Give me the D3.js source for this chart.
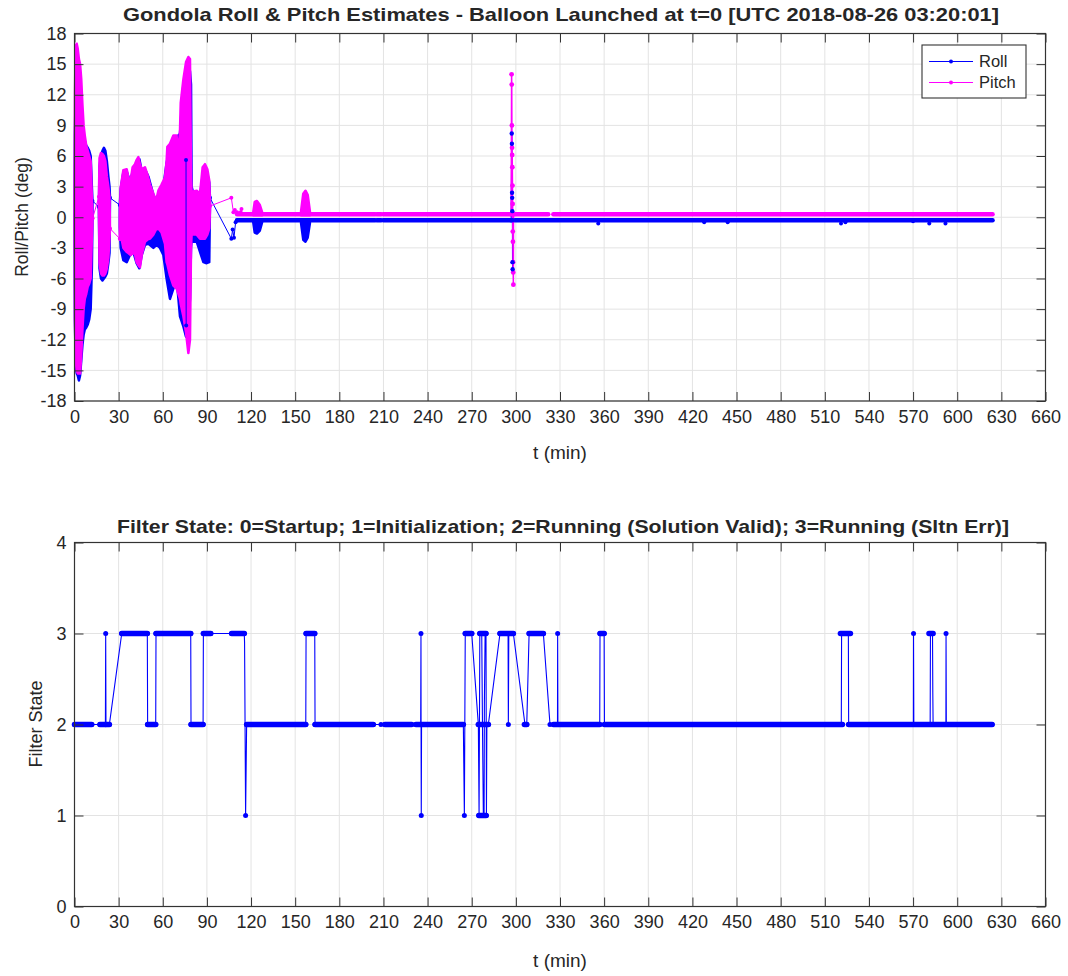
<!DOCTYPE html>
<html><head><meta charset="utf-8">
<script src="https://cdn.jsdelivr.net/npm/d3@7"></script>
<style>
body{margin:0;background:#fff}
svg{display:block}
text{font-family:"Liberation Sans",Arial,Helvetica,sans-serif;fill:#262626}
</style>
</head><body>
<svg id="c" width="1068" height="976"></svg>
<script>
// ---------------- DATA ----------------
const tTicks = [0,30,60,90,120,150,180,210,240,270,300,330,360,390,420,450,480,510,540,570,600,630,660];
const rpTicks = [-18,-15,-12,-9,-6,-3,0,3,6,9,12,15,18];
const fsTicks = [0,1,2,3,4];

// dense oscillation bursts: [t, upper, lower]
const rollBurstA = [[0,0,-0.5],[0.3,8,-10],[0.8,12.5,-14.5],[1.5,12.3,-15.3],[2.2,11.5,-15.5],[3,10,-16],[3.8,9,-15.5],[4.6,8.2,-14],[5.4,8,-12.5],[6.2,7.8,-11.5],[7,7.5,-11],[8,7,-10.8],[9,6.8,-10.5],[10,6.5,-10],[11,6,-9],[11.8,3,-5],[12.2,1.6,0]];
const pitchBurstA = [[0,1.5,-0.5],[0.3,12,-10],[0.8,16.8,-14],[1.5,17,-15],[2.2,16.5,-15.3],[3,15.5,-15.3],[3.8,15,-15.3],[4.6,13.5,-13.5],[5.4,11,-11],[6.2,9,-9],[7,8,-8],[8,7,-7.5],[9,6.5,-6.8],[10,6,-6.5],[11,5.5,-6],[11.8,2,-2],[12.2,-0.1,-0.5]];
const rollBurstB = [[16.6,1,0.5],[17,5,-5],[18,6,-6],[19,6.5,-6.2],[20,6.8,-6],[21,6.5,-5.8],[22,5.5,-5.5],[23,4,-4.5],[23.8,3,-3.5],[24.1,2,1.5]];
const pitchBurstB = [[16.6,2,1.5],[17,5.8,-4.5],[18,6.3,-5.5],[19,6.2,-5.7],[20,6,-5.7],[21,5.5,-5.5],[22,4,-5],[23,3,-4],[23.8,2,-2],[24.1,-1,-1.2]];
const rollBurstC = [[30.8,1.2,-1],[31.4,2.8,-3.0],[33.2,4.4,-4.2],[35.5,4.5,-4.4],[37.7,3.5,-3.7],[40.0,4.7,-3.4],[42.2,5.4,-4.5],[44.1,5.7,-5.0],[45.7,4.5,-3.7],[47.9,4.7,-2.7],[50.2,4.0,-2.6],[53.6,2.2,-3.0],[55.8,1.5,-2.7],[58.1,2.4,-3.0],[60.4,3.0,-3.7],[62.6,5.3,-6.0],[64.9,7.0,-8.0],[67.2,7.8,-7.0],[69.4,7.8,-6.0],[71.7,8.2,-9.7],[74.0,13.0,-10.7],[75.8,14.5,-11.7],[77.4,15.0,-10.3],[78.5,14.3,-8],[79.2,13,-3],[79.6,3,-2.3],[80.8,2.3,-2.4],[83.1,2.4,-2.4],[85.3,2.1,-3.4],[87.6,4.6,-4.4],[89.8,4.5,-4.5],[91.6,3.4,-4.4],[92.1,1.9,1.5]];
const pitchBurstC = [[30.8,0,-2.2],[31.4,2.9,-1.7],[33.2,4.6,-3.0],[35.5,4.7,-3.4],[36.6,3.9,-3.5],[38.2,3.6,-3.7],[39.5,4.9,-3.5],[41.1,5.2,-3.6],[42.2,5.6,-4.4],[43.4,5.9,-4.7],[44.5,5.2,-4.9],[45.7,4.7,-3.7],[47.9,4.9,-2.4],[49.5,4.2,-2.2],[51.3,3.2,-2.1],[53.6,2.3,-1.7],[55.4,1.6,-1.2],[57.0,2.6,-1.1],[59.2,3.2,-1.5],[61.5,3.9,-2.6],[62.6,5.5,-4.4],[63.1,6.9,-4.6],[64.9,7.2,-5.7],[67.2,8.0,-6.7],[69.4,8.0,-7.0],[70.6,6.2,-7.5],[71.7,8.5,-8.0],[72.2,11.2,-8.5],[74.0,13.5,-9.7],[75.8,15.2,-11.3],[77.4,15.7,-13.3],[78.5,15.5,-12.0],[79.2,4,-3],[79.6,2.5,-1.7],[83.1,2.6,-1.7],[85.3,2.3,-2.1],[87.1,4.9,-2.1],[88.7,5.2,-2.1],[90.3,4.7,-1.7],[91.6,3.6,-1.1],[92.1,1.3,0.8]];
const rollBurstD = [[121.5,-0.3,-0.5],[122.5,-0.2,-1.5],[124,-0.2,-1.6],[126,-0.2,-1.3],[127.5,-0.3,-0.5]];
const pitchBurstD = [[121.5,0.5,0.2],[122.5,1.5,0.2],[124,1.6,0.2],[126,1.2,0.2],[127.5,0.5,0.2]];
const rollBurstE = [[154,-0.3,-0.6],[155.5,-0.2,-2.2],[157,-0.2,-2.4],[158.5,-0.2,-2],[160,-0.3,-0.6]];
const pitchBurstE = [[154,0.6,0.2],[155.5,2.3,0.2],[157,2.6,0.2],[158.5,2.2,0.2],[160,0.6,0.2]];

// sparse connecting traces: [t, value]
const rollLinks = [
  [[12.2,1.6],[16.6,1.0]],
  [[24.1,1.9],[30.8,1.2]],
  [[92.1,1.9],[106.6,-2.1],[107.5,-1.2],[108.4,-2.0],[109.5,-0.5],[110.5,-0.3]],
  [[75.8,5.6],[75.9,-10.6]]
];
const pitchLinks = [
  [[12.3,-0.1],[16.6,2.0]],
  [[24.1,-1.1],[30.8,-2.1]],
  [[92.1,1.1],[106.6,1.9],[108,0.5],[109,0.7],[110.5,0.5],[113,0.5],[113.5,0.8]]
];
// steady dense segments: [tStart, tEnd, value]
const rollFlat = [[110.5,204.3,-0.3],[205.5,208.5,-0.3],[210,296.8,-0.3],[298,624,-0.3]];
const pitchFlat = [[110.5,204.3,0.3],[205.5,208.5,0.3],[210,296.8,0.3],[298,322,0.3],[325.5,624,0.3]];
// spike near t=297
const rollSpike = [[296.8,-0.3],[297.2,8.2],[297.3,7.2],[297.4,2.4],[297.5,1.9],[297.6,0.6],[297.7,-4.4],[297.8,-5.1],[298,-0.3]];
const pitchSpike = [[296.8,0.3],[297.1,14],[297.2,13],[297.3,9],[297.4,6.8],[297.5,6.1],[297.6,4.9],[297.7,3.1],[297.8,1.3],[297.9,-1.4],[298,-2.4],[298.1,-4.4],[298.2,-5.4],[298.3,-6.6],[298.4,0.3]];
const rollDots = [[356,-0.6],[428,-0.5],[444,-0.5],[521,-0.6],[524,-0.5],[570,-0.4],[581,-0.6],[592,-0.6]];

// filter state
const filterPath = [[0,2],[11.7,2],[17.3,2],[21.0,2],[21.2,3],[21.4,2],[23.7,2],[32.1,3],[49.5,3],[49.7,2],[55.2,2],[55.4,3],[79.0,3],[79.2,2],[87.4,2],[87.6,3],[92.6,3],[106.8,3],[115.4,3],[115.6,2.9],[116.3,1],[117.0,2],[157.2,2],[157.4,3],[163.3,3],[163.5,2],[203.1,2],[208.3,2],[211.0,2],[229.2,2],[232.1,2],[235.3,2],[235.5,3],[235.6,1.63],[235.7,1],[235.9,2],[264.3,2],[265.0,1],[265.6,3],[270.0,3],[274.5,2],[275.0,1],[275.5,3],[276.8,3],[277.3,2],[277.9,1],[278.4,1],[278.6,2.23],[279.1,3],[279.7,3],[280.0,1],[280.3,2],[281.3,2],[289.2,3],[294.7,3],[294.9,2],[295.2,3],[298.3,3],[306.2,2],[307.4,2],[309.0,3],[318.7,3],[323.2,2],[328.3,2],[328.4,3],[328.6,2],[357.0,2],[357.2,3],[360.0,3],[360.2,2],[521.2,2],[521.4,3],[526.0,3],[526.2,2],[570.2,2],[570.3,3],[570.5,2],[581.6,2],[581.8,3],[583.2,3],[583.4,2.35],[583.6,2],[592.3,2],[592.4,3],[592.6,2],[623.7,2]];
const filterRuns = [[0,11.7,2],[17.3,21.0,2],[21.4,23.7,2],[32.1,49.5,3],[49.7,55.2,2],[55.4,79.0,3],[79.2,87.4,2],[87.6,92.6,3],[106.8,115.4,3],[117.0,157.2,2],[157.4,163.3,3],[163.5,203.1,2],[211.0,229.2,2],[232.1,264.3,2],[265.6,270.0,3],[274.5,281.3,2],[275.5,279.7,3],[274.8,279.7,1],[289.2,298.3,3],[305.8,307.4,2],[309.0,318.7,3],[325.5,357.0,2],[357.2,360.0,3],[360.2,522,2],[520.6,527.4,3],[526.2,623.7,2],[580.8,583.6,3]];

// ---------------- DRAW ----------------
const BLUE = "#0000ff", MAG = "#ff00ff";
const svg = d3.select("#c");
const x = d3.scaleLinear().domain([0,660]).range([74.5,1045.5]);
const yA = d3.scaleLinear().domain([-18,18]).range([401,33.5]);
const yB = d3.scaleLinear().domain([0,4]).range([906.5,542.5]);
const fmt = d => String(d);

function grid(y, yt) {
  const g = svg.append("g");
  const [b,t] = y.range();
  g.selectAll(null).data(tTicks).join("line")
    .attr("x1",d=>x(d)).attr("x2",d=>x(d)).attr("y1",t).attr("y2",b)
    .attr("stroke","#e3e3e3").attr("stroke-width",1);
  g.selectAll(null).data(yt).join("line")
    .attr("x1",x.range()[0]).attr("x2",x.range()[1]).attr("y1",d=>y(d)).attr("y2",d=>y(d))
    .attr("stroke","#e3e3e3").attr("stroke-width",1);
}

function frame(y, yt) {
  const [b,t] = y.range();
  const [l,r] = x.range();
  const style = g => {
    g.select(".domain").remove();
    g.selectAll(".tick line").attr("stroke","#333").attr("stroke-width",1);
    g.selectAll("text").attr("font-size","18px").attr("fill","#262626").style("font-family",'"Liberation Sans",Arial,sans-serif');
  };
  svg.append("g").attr("transform",`translate(0,${b})`)
    .call(d3.axisBottom(x).tickValues(tTicks).tickFormat(fmt).tickSize(-9).tickPadding(9)).call(style);
  svg.append("g").attr("transform",`translate(0,${t})`)
    .call(d3.axisTop(x).tickValues(tTicks).tickFormat("").tickSize(-9)).call(style);
  svg.append("g").attr("transform",`translate(${l},0)`)
    .call(d3.axisLeft(y).tickValues(yt).tickFormat(fmt).tickSize(-9).tickPadding(8)).call(style);
  svg.append("g").attr("transform",`translate(${r},0)`)
    .call(d3.axisRight(y).tickValues(yt).tickFormat("").tickSize(-9)).call(style);
  svg.append("rect").attr("x",l).attr("y",t).attr("width",r-l).attr("height",b-t)
    .attr("fill","none").attr("stroke","#333").attr("stroke-width",1.2);
}

grid(yA, rpTicks);
grid(yB, fsTicks);

// ---- top panel data ----
const area = d3.area().x(d=>x(d[0])).y0(d=>yA(d[2])).y1(d=>yA(d[1]));
const lineA = d3.line().x(d=>x(d[0])).y(d=>yA(d[1]));
function drawBursts(list, col) {
  list.forEach(b => svg.append("path").attr("d",area(b))
    .attr("fill",col).attr("stroke",col).attr("stroke-width",2.5).attr("stroke-linejoin","round"));
}
function drawFlat(list, col) {
  svg.append("g").selectAll(null).data(list).join("line")
    .attr("x1",d=>x(d[0])).attr("x2",d=>x(d[1])).attr("y1",d=>yA(d[2])).attr("y2",d=>yA(d[2]))
    .attr("stroke",col).attr("stroke-width",4.5).attr("stroke-linecap","round");
}
function drawLinks(list, col) {
  list.forEach(p => {
    svg.append("path").attr("d",lineA(p)).attr("fill","none").attr("stroke",col).attr("stroke-width",1);
    svg.append("g").selectAll(null).data(p).join("circle")
      .attr("cx",d=>x(d[0])).attr("cy",d=>yA(d[1])).attr("r",2).attr("fill",col);
  });
}
drawBursts([rollBurstA,rollBurstB,rollBurstC,rollBurstD,rollBurstE], BLUE);
drawFlat(rollFlat, BLUE);
drawLinks(rollLinks.slice(0,3), BLUE);
drawBursts([pitchBurstA,pitchBurstB,pitchBurstC,pitchBurstD,pitchBurstE], MAG);
drawFlat(pitchFlat, MAG);
drawLinks(pitchLinks, MAG);
drawLinks(rollLinks.slice(3), BLUE);
svg.append("g").selectAll(null).data(rollDots).join("circle")
  .attr("cx",d=>x(d[0])).attr("cy",d=>yA(d[1])).attr("r",2).attr("fill",BLUE);
// spike
svg.append("path").attr("d",lineA(rollSpike)).attr("fill","none").attr("stroke",BLUE).attr("stroke-width",1);
svg.append("path").attr("d",lineA(pitchSpike)).attr("fill","none").attr("stroke",MAG).attr("stroke-width",1.5);
svg.append("g").selectAll(null).data(pitchSpike).join("circle")
  .attr("cx",d=>x(d[0])).attr("cy",d=>yA(d[1])).attr("r",2.4).attr("fill",MAG);
svg.append("g").selectAll(null).data(rollSpike).join("circle")
  .attr("cx",d=>x(d[0])).attr("cy",d=>yA(d[1])).attr("r",2.2).attr("fill",BLUE);

// ---- bottom panel data ----
const lineB = d3.line().x(d=>x(d[0])).y(d=>yB(d[1]));
svg.append("path").attr("d",lineB(filterPath)).attr("fill","none").attr("stroke",BLUE).attr("stroke-width",1.1);
svg.append("g").selectAll(null).data(filterRuns).join("line")
  .attr("x1",d=>x(d[0])).attr("x2",d=>x(d[1])).attr("y1",d=>yB(d[2])).attr("y2",d=>yB(d[2]))
  .attr("stroke",BLUE).attr("stroke-width",5.5).attr("stroke-linecap","round");
svg.append("g").selectAll(null).data(filterPath.filter(d => Number.isInteger(d[1]))).join("circle")
  .attr("cx",d=>x(d[0])).attr("cy",d=>yB(d[1])).attr("r",2.5).attr("fill",BLUE);

frame(yA, rpTicks);
frame(yB, fsTicks);

// ---- legend ----
const lg = svg.append("g");
lg.append("rect").attr("x",922).attr("y",45).attr("width",104).attr("height",53)
  .attr("fill","#fff").attr("stroke","#333").attr("stroke-width",1.1);
[["Roll",BLUE,61.5],["Pitch",MAG,82.5]].forEach(([lab,col,yy]) => {
  lg.append("line").attr("x1",929).attr("x2",973).attr("y1",yy).attr("y2",yy).attr("stroke",col).attr("stroke-width",1);
  lg.append("circle").attr("cx",951).attr("cy",yy).attr("r",2).attr("fill",col);
  lg.append("text").attr("x",979).attr("y",yy+5.5).attr("font-size","16.5px").text(lab);
});

// ---- titles and labels ----
svg.append("text").attr("x",561).attr("y",21).attr("text-anchor","middle")
  .attr("font-size","19px").attr("font-weight","bold").attr("fill","#111")
  .attr("textLength",876).attr("lengthAdjust","spacingAndGlyphs")
  .text("Gondola Roll & Pitch Estimates - Balloon Launched at t=0 [UTC 2018-08-26 03:20:01]");
svg.append("text").attr("x",563).attr("y",533).attr("text-anchor","middle")
  .attr("font-size","19px").attr("font-weight","bold").attr("fill","#111")
  .attr("textLength",892).attr("lengthAdjust","spacingAndGlyphs")
  .text("Filter State: 0=Startup; 1=Initialization; 2=Running (Solution Valid); 3=Running (Sltn Err)]");
svg.append("text").attr("x",560).attr("y",459).attr("text-anchor","middle").attr("font-size","19px").text("t (min)");
svg.append("text").attr("x",560).attr("y",967).attr("text-anchor","middle").attr("font-size","19px").text("t (min)");
svg.append("text").attr("transform","translate(28,217) rotate(-90)").attr("text-anchor","middle").attr("font-size","17.5px").text("Roll/Pitch (deg)");
svg.append("text").attr("transform","translate(42,724) rotate(-90)").attr("text-anchor","middle").attr("font-size","18px").text("Filter State");
</script>
</body></html>
